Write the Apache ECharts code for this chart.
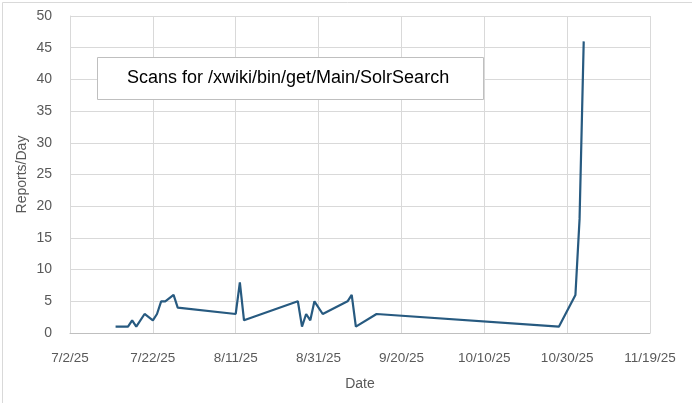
<!DOCTYPE html>
<html>
<head>
<meta charset="utf-8">
<script src="https://cdn.jsdelivr.net/npm/echarts@6/dist/echarts.min.js"></script>
<style>
html,body{margin:0;padding:0;background:#fff;}
#c{width:692px;height:403px;}
</style>
</head>
<body>
<div id="c"></div>
<script>
const dates = ["2025-07-13","2025-07-16","2025-07-17","2025-07-18","2025-07-20","2025-07-22","2025-07-23","2025-07-24","2025-07-25","2025-07-27","2025-07-28","2025-08-11","2025-08-12","2025-08-13","2025-08-26","2025-08-27","2025-08-28","2025-08-29","2025-08-30","2025-09-01","2025-09-07","2025-09-08","2025-09-09","2025-09-14","2025-10-28","2025-11-01","2025-11-02","2025-11-03"];
const reports = [1,1,2,1,3,2,3,5,5,6,4,3,8,2,5,1,3,2,5,3,5,6,1,3,1,6,18,46];
const xMinDate = "2025-07-02";
const xMaxDate = "2025-11-19";
const xStepDays = 20;
const yTicks = [0,5,10,15,20,25,30,35,40,45,50];
const titleText = "Scans for /xwiki/bin/get/Main/SolrSearch";
const xName = "Date";
const yName = "Reports/Day";

const EPOCH = Date.UTC(1899,11,30);
function toSerial(s){const p=s.split('-').map(Number);return Math.round((Date.UTC(p[0],p[1]-1,p[2])-EPOCH)/86400000);}
function fmt(v){const d=new Date(EPOCH+v*86400000);return (d.getUTCMonth()+1)+'/'+d.getUTCDate()+'/'+String(d.getUTCFullYear()).slice(2);}

const data = dates.map((d,i)=>[toSerial(d),reports[i]]);
const chart = echarts.init(document.getElementById('c'),null,{renderer:'canvas'});
const font = 'Liberation Sans, Arial, sans-serif';
chart.setOption({
  animation:false,
  backgroundColor:'#fff',
  grid:{left:70,right:42,top:16,bottom:70,containLabel:false},
  xAxis:{type:'value',min:toSerial(xMinDate),max:toSerial(xMaxDate),interval:xStepDays,
    name:xName,nameLocation:'middle',nameGap:44,
    nameTextStyle:{color:'#595959',fontSize:14,fontFamily:font},
    axisLine:{show:true,lineStyle:{color:'#bfbfbf',width:1}},
    axisTick:{show:false},
    axisLabel:{color:'#595959',fontSize:13.5,fontFamily:font,margin:18,formatter:fmt},
    splitLine:{show:true,lineStyle:{color:'#d9d9d9',width:1}}},
  yAxis:{type:'value',min:yTicks[0],max:yTicks[yTicks.length-1],interval:yTicks[1]-yTicks[0],
    name:yName,nameLocation:'middle',nameGap:41,nameMoveOverlap:false,
    nameTextStyle:{color:'#595959',fontSize:14,fontFamily:font},
    axisLine:{show:true,lineStyle:{color:'#d9d9d9',width:1}},
    axisTick:{show:false},
    axisLabel:{color:'#595959',fontSize:14,fontFamily:font,margin:18},
    splitLine:{show:true,lineStyle:{color:'#d9d9d9',width:1}}},
  series:[{type:'line',data:data,showSymbol:false,symbol:'none',
    lineStyle:{color:'#275a80',width:2.2},itemStyle:{color:'#275a80'}}],
  graphic:[
    {type:'rect',left:0,top:0,z:-1,shape:{width:691,height:402},style:{fill:'none',stroke:'#d9d9d9',lineWidth:1}},
    {type:'rect',left:97,top:57,z:10,shape:{width:386,height:42},style:{fill:'#fff',stroke:'#bfbfbf',lineWidth:1}},
    {type:'text',left:127,top:69,z:11,style:{text:titleText,fill:'#000',fontSize:18,fontFamily:font}}
  ]
});
</script>
</body>
</html>
